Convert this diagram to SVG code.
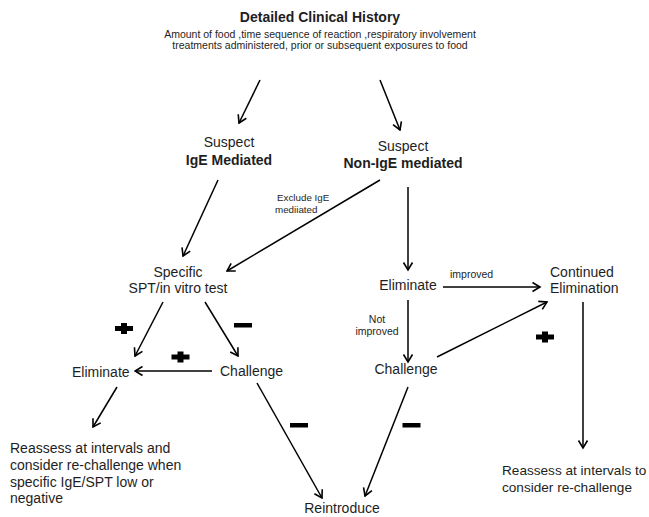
<svg xmlns="http://www.w3.org/2000/svg" width="649" height="517" viewBox="0 0 649 517">
<style>
text{font-family:"Liberation Sans",Arial,Helvetica,sans-serif;fill:#1e1e1e}
.t{font-size:14px;font-weight:bold}
.n{font-size:14px}
.b{font-size:14px;font-weight:bold}
.s{font-size:10.5px}
.l{font-size:9.8px}
.c{text-anchor:middle}
.a{stroke:#000;stroke-width:1.5;fill:none;marker-end:url(#arr)}
</style>
<defs>
<marker id="arr" viewBox="0 0 12 12" markerWidth="12" markerHeight="12" refX="10.5" refY="6" orient="auto" markerUnits="userSpaceOnUse">
<path d="M3,1.5 L10.5,6 L3,10.5" fill="none" stroke="#000" stroke-width="1.6"/>
</marker>
<path id="plus" d="M-9,-2.5 H-3 V-5.5 H3 V-2.5 H9 V2.5 H3 V5.5 H-3 V2.5 H-9 Z" fill="#000"/>
<rect id="minus" x="-9" y="-2" width="18" height="4.5" fill="#000"/>
</defs>
<rect width="649" height="517" fill="#fff"/>

<g id="history">
<text class="t c" x="320" y="22">Detailed Clinical History</text>
<text class="s c" x="320" y="38">Amount of food ,time sequence of reaction ,respiratory involvement</text>
<text class="s c" x="320" y="49">treatments administered, prior or subsequent exposures to food</text>
</g>
<g id="suspect-ige">
<text class="n c" x="229" y="147">Suspect</text>
<text class="b c" x="229" y="165">IgE Mediated</text>
</g>
<g id="suspect-nonige">
<text class="n c" x="403" y="151">Suspect</text>
<text class="b c" x="403" y="168">Non-IgE mediated</text>
</g>
<g id="specific-test">
<text class="n c" x="178" y="277">Specific</text>
<text class="n c" x="178" y="293">SPT/in vitro test</text>
</g>
<g id="eliminate-left">
<text class="n" x="72" y="377">Eliminate</text>
</g>
<g id="challenge-left">
<text class="n" x="220" y="376">Challenge</text>
</g>
<g id="reassess-left">
<text class="n" x="10" y="453">Reassess at intervals and</text>
<text class="n" x="10" y="470">consider re-challenge when</text>
<text class="n" x="10" y="487">specific IgE/SPT low or</text>
<text class="n" x="10" y="503">negative</text>
</g>
<g id="eliminate-right">
<text class="n c" x="408" y="290">Eliminate</text>
</g>
<g id="continued-elimination">
<text class="n" x="550" y="277">Continued</text>
<text class="n" x="550" y="293">Elimination</text>
</g>
<g id="challenge-right">
<text class="n c" x="406" y="374">Challenge</text>
</g>
<g id="reassess-right">
<text class="n" x="502" y="475" style="font-size:13.6px">Reassess at intervals to</text>
<text class="n" x="502" y="492" style="font-size:13.6px">consider re-challenge</text>
</g>
<g id="reintroduce">
<text class="n c" x="342" y="513">Reintroduce</text>
</g>

<g id="connectors">
<line class="a" x1="260" y1="80" x2="239" y2="123"/>
<line class="a" x1="380" y1="80" x2="400" y2="130"/>
<line class="a" x1="218" y1="180" x2="183" y2="256"/>
<line class="a" x1="380" y1="180" x2="227" y2="271"/>
<line class="a" x1="408" y1="187" x2="408" y2="270"/>
<line class="a" x1="163" y1="302" x2="135" y2="356"/>
<line class="a" x1="205" y1="302" x2="238" y2="356"/>
<line class="a" x1="212" y1="371" x2="135" y2="371"/>
<line class="a" x1="117" y1="387" x2="93" y2="427"/>
<line class="a" x1="257" y1="383" x2="322" y2="498"/>
<line class="a" x1="443" y1="287" x2="540" y2="287"/>
<line class="a" x1="408" y1="300" x2="408" y2="362"/>
<line class="a" x1="437" y1="357" x2="547" y2="302"/>
<line class="a" x1="583" y1="302" x2="583" y2="448"/>
<line class="a" x1="408" y1="387" x2="365" y2="496"/>
<g id="labels">
<text class="l" x="277" y="201">Exclude IgE</text>
<text class="l" x="275" y="213">mediiated</text>
<text class="s" x="450" y="278">improved</text>
<text class="s c" x="377" y="323">Not</text>
<text class="s c" x="377" y="335">improved</text>
</g>
<g id="signs">
<use href="#plus" x="124" y="328.5"/>
<use href="#plus" x="180.5" y="357"/>
<use href="#plus" x="545" y="337"/>
<use href="#minus" x="243" y="325"/>
<use href="#minus" x="299" y="425"/>
<use href="#minus" x="411.5" y="425"/>
</g>
</g>
</svg>
